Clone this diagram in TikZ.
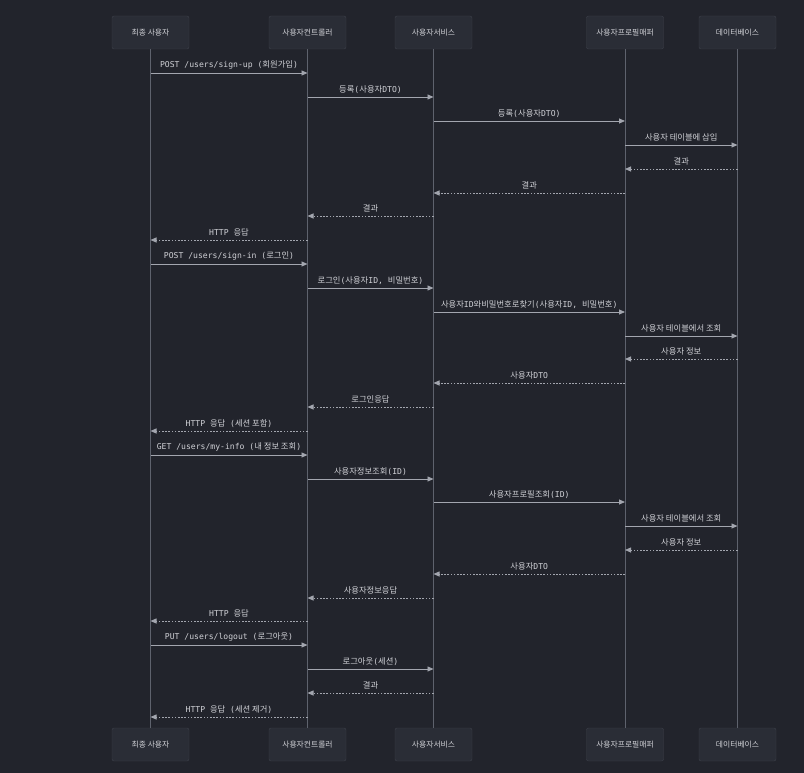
\documentclass[tikz,border=0pt]{standalone}
\usepackage{fontspec}
\setmainfont{DejaVu Sans Mono}
\newfontfamily\krfont{Noto Sans CJK KR}
\usetikzlibrary{arrows.meta}
\definecolor{bgc}{HTML}{22242C}
\definecolor{boxfill}{HTML}{2A2D36}
\definecolor{boxline}{HTML}{3E414B}
\definecolor{txtc}{HTML}{D0D1D6}
\definecolor{lifec}{HTML}{5E626D}
\definecolor{msgc}{HTML}{A3A6AF}
\newcommand\K[1]{{\krfont\fontsize{8.3pt}{9pt}\selectfont #1}}
\tikzset{
  actor/.style={draw=boxline, fill=boxfill, rounded corners=2pt, minimum width=77pt, minimum height=33pt, inner sep=0pt, text=txtc, font=\krfont\fontsize{7.8pt}{9pt}\selectfont},
  life/.style={draw=lifec, line width=0.9pt},
  req/.style={draw=msgc, line width=0.8pt, -{Triangle[length=6pt,width=5pt]}},
  rep/.style={draw=msgc, line width=0.8pt, dash pattern=on 1.6pt off 1.6pt, -{Triangle[length=6pt,width=5pt]}},
  lbl/.style={text=txtc, font=\fontsize{8.1pt}{9pt}\selectfont, anchor=south, inner sep=0pt, yshift=3pt}
}
\newcommand\msg[5]{\draw[#5] (#1 |- 0,#3) -- (#2 |- 0,#3) node[lbl, midway] {#4};}
\begin{document}
\begin{tikzpicture}[x=1pt,y=-1pt]
\fill[bgc] (0,0) rectangle (804,773);
\useasboundingbox (0,0) rectangle (804,773);
% top actors
\node[actor] (U) at (150.5,32.5) {최종 사용자};
\node[actor] (C) at (307.5,32.5) {사용자컨트롤러};
\node[actor] (S) at (433.5,32.5) {사용자서비스};
\node[actor] (M) at (625,32.5) {사용자프로필매퍼};
\node[actor] (D) at (737.5,32.5) {데이터베이스};
% bottom actors
\node[actor] (Ub) at (150.5,744.5) {최종 사용자};
\node[actor] (Cb) at (307.5,744.5) {사용자컨트롤러};
\node[actor] (Sb) at (433.5,744.5) {사용자서비스};
\node[actor] (Mb) at (625,744.5) {사용자프로필매퍼};
\node[actor] (Db) at (737.5,744.5) {데이터베이스};
% lifelines
\draw[life] (U.south) -- (Ub.north);
\draw[life] (C.south) -- (Cb.north);
\draw[life] (S.south) -- (Sb.north);
\draw[life] (M.south) -- (Mb.north);
\draw[life] (D.south) -- (Db.north);
% messages
\msg{U}{C}{73}{POST /users/sign-up (\K{회원가입})}{req}
\msg{C}{S}{97}{\K{등록}(\K{사용자}DTO)}{req}
\msg{S}{M}{121}{\K{등록}(\K{사용자}DTO)}{req}
\msg{M}{D}{145}{\K{사용자 테이블에 삽입}}{req}
\msg{D}{M}{169}{\K{결과}}{rep}
\msg{M}{S}{193}{\K{결과}}{rep}
\msg{S}{C}{216}{\K{결과}}{rep}
\msg{C}{U}{240}{HTTP \K{응답}}{rep}
\msg{U}{C}{264}{POST /users/sign-in (\K{로그인})}{req}
\msg{C}{S}{288}{\K{로그인}(\K{사용자}ID, \K{비밀번호})}{req}
\msg{S}{M}{312}{\K{사용자}ID\K{와비밀번호로찾기}(\K{사용자}ID, \K{비밀번호})}{req}
\msg{M}{D}{336}{\K{사용자 테이블에서 조회}}{req}
\msg{D}{M}{359}{\K{사용자 정보}}{rep}
\msg{M}{S}{383}{\K{사용자}DTO}{rep}
\msg{S}{C}{407}{\K{로그인응답}}{rep}
\msg{C}{U}{431}{HTTP \K{응답} (\K{세션 포함})}{rep}
\msg{U}{C}{455}{GET /users/my-info (\K{내 정보 조회})}{req}
\msg{C}{S}{479}{\K{사용자정보조회}(ID)}{req}
\msg{S}{M}{502}{\K{사용자프로필조회}(ID)}{req}
\msg{M}{D}{526}{\K{사용자 테이블에서 조회}}{req}
\msg{D}{M}{550}{\K{사용자 정보}}{rep}
\msg{M}{S}{574}{\K{사용자}DTO}{rep}
\msg{S}{C}{598}{\K{사용자정보응답}}{rep}
\msg{C}{U}{621}{HTTP \K{응답}}{rep}
\msg{U}{C}{645}{PUT /users/logout (\K{로그아웃})}{req}
\msg{C}{S}{669}{\K{로그아웃}(\K{세션})}{req}
\msg{S}{C}{693}{\K{결과}}{rep}
\msg{C}{U}{717}{HTTP \K{응답} (\K{세션 제거})}{rep}
\end{tikzpicture}
\end{document}
